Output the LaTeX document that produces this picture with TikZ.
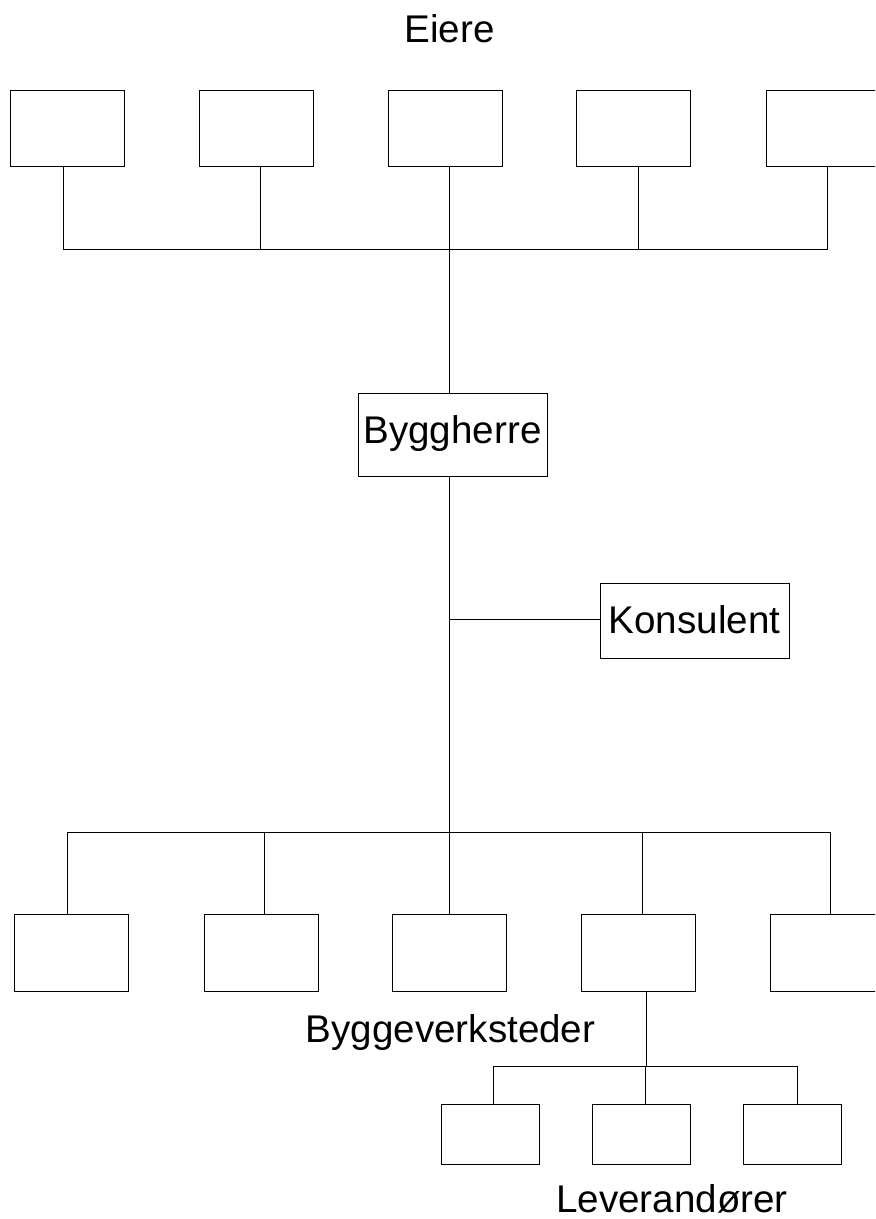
\documentclass[tikz,border=0pt]{standalone}
\usepackage{fontspec}
\setmainfont{Liberation Sans}
\begin{document}
\begin{tikzpicture}[x=0.5pt,y=-0.5pt,
  line width=0.5pt,
  every node/.style={font=\fontsize{19.3}{23}\selectfont, inner sep=0pt},
  owner/.style={draw, minimum width=57pt, minimum height=38pt},
  shop/.style={draw, minimum width=57pt, minimum height=38.5pt},
  supplier/.style={draw, minimum width=49pt, minimum height=30pt},
  role/.style={draw, minimum width=94.5pt},
  caption/.style={anchor=base}]
\useasboundingbox (0,0) rectangle (875,1219);
\clip (0,0) rectangle (875,1219);

% owners
\node[caption] (eiere) at (449.5,43) {Eiere};
\node[owner] (o1) at (67,129) {};
\node[owner] (o2) at (256,129) {};
\node[owner] (o3) at (445,129) {};
\node[owner] (o4) at (633.5,129) {};
\node[owner] (o5) at (823,129) {};

% client and consultant
\node[role, minimum height=41.5pt, text height=10pt, text depth=1.5pt] (bh) at (452.5,434.5) {Byggherre};
\node[role, minimum height=37.5pt, text height=14pt, text depth=1.5pt] (ko) at (694.5,620.5) {Konsulent};

% workshops
\node[shop] (w1) at (71,952.5) {};
\node[shop] (w2) at (261,952.5) {};
\node[shop] (w3) at (449,952.5) {};
\node[shop] (w4) at (638,952.5) {};
\node[shop] (w5) at (827,952.5) {};
\node[caption] (bv) at (450.5,1042) {Byggeverksteder};

% suppliers
\node[supplier] (s1) at (490,1134) {};
\node[supplier] (s2) at (641,1134) {};
\node[supplier] (s3) at (792.5,1134) {};
\node[caption] (lv) at (672,1212) {Leverandører};

% bus junctions
\coordinate (tb1) at (63,250);
\coordinate (tb2) at (260,250);
\coordinate (tb3) at (449,250);
\coordinate (tb4) at (638,250);
\coordinate (tb5) at (827,250);
\coordinate (kj) at (449,619);
\coordinate (bb1) at (67,832);
\coordinate (bb2) at (264,832);
\coordinate (bb3) at (449,832);
\coordinate (bb4) at (642,832);
\coordinate (bb5) at (830,832);
\coordinate (sb0) at (646,1066);
\coordinate (sb1) at (493,1066);
\coordinate (sb2) at (645,1066);
\coordinate (sb3) at (797,1066);

% owner bus
\draw (tb1 |- o1.south) -- (tb1) -- (tb5) -- (tb5 |- o5.south);
\draw (tb2 |- o2.south) -- (tb2);
\draw (tb3 |- o3.south) -- (tb3);
\draw (tb4 |- o4.south) -- (tb4);
\draw (tb3) -- (tb3 |- bh.north);

% client down to workshops
\draw (bb3 |- bh.south) -- (bb3);
\draw (kj) -- (kj -| ko.west);

% workshop bus
\draw (bb1 |- w1.north) -- (bb1) -- (bb5) -- (bb5 |- w5.north);
\draw (bb2) -- (bb2 |- w2.north);
\draw (bb3) -- (bb3 |- w3.north);
\draw (bb4) -- (bb4 |- w4.north);

% supplier bus
\draw (sb0 |- w4.south) -- (sb0);
\draw (sb1 |- s1.north) -- (sb1) -- (sb3) -- (sb3 |- s3.north);
\draw (sb2) -- (sb2 |- s2.north);
\end{tikzpicture}
\end{document}
